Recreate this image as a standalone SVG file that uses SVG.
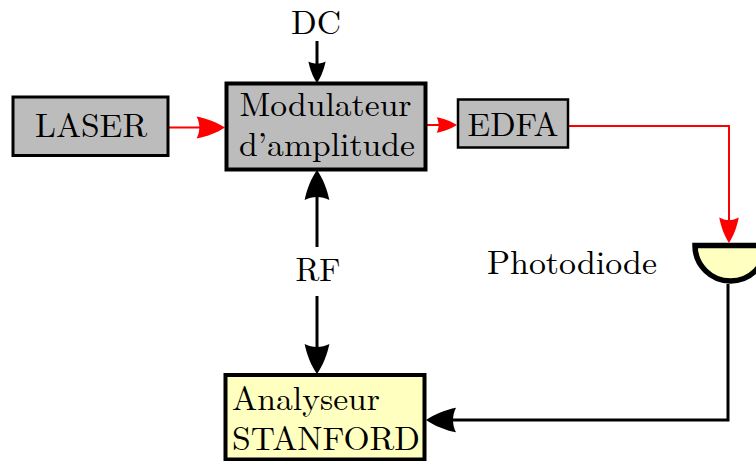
<svg xmlns="http://www.w3.org/2000/svg" width="756" height="461" viewBox="0 0 756 461">
<style>
text{font-family:"Latin Modern Roman","Liberation Serif","DejaVu Serif",serif;font-size:33px;fill:#000}
.g{fill:#bcbcbc;stroke:#000}
.y{fill:#ffffbf;stroke:#000}
.r{fill:none;stroke:#f00;stroke-width:2}
.k{fill:none;stroke:#000;stroke-width:3}
</style>
<defs>
<path id="ah" d="M0 0C-8-6-20-11-30-13C-26-5-26 5-30 13C-20 11-8 6 0 0Z"/>
</defs>
<rect width="756" height="461" fill="#fff"/>
<g id="connectors">
<path class="r" d="M168 127.500H200"/>
<use href="#ah" transform="translate(225 127.500) scale(.95 .85)" fill="#f00"/>
<path class="r" d="M426 125H440"/>
<use href="#ah" transform="translate(457 125) scale(.68 .6)" fill="#f00"/>
<path class="r" d="M568 126H729V220"/>
<use href="#ah" transform="translate(729 243) rotate(90) scale(.85 .75)" fill="#f00"/>
<path class="k" d="M317 41V65"/>
<use href="#ah" transform="translate(317 83) rotate(90) scale(.72 .66)"/>
<path class="k" d="M317 247V190"/>
<use href="#ah" transform="translate(317 170) rotate(-90) scale(1 .95)"/>
<path class="k" d="M317 296V350"/>
<use href="#ah" transform="translate(317 374) rotate(90) scale(1 .95)"/>
<path class="k" d="M728 284V420H450"/>
<use href="#ah" transform="translate(426 420) rotate(180) scale(1 .95)"/>
</g>
<g id="laser"><rect class="g" x="13" y="97" width="155" height="58.500" stroke-width="3"/><text x="91" y="137" text-anchor="middle" textLength="112" lengthAdjust="spacingAndGlyphs">LASER</text></g>
<g id="modulateur"><rect class="g" x="226.500" y="83.500" width="199" height="86" stroke-width="4"/><text x="325.500" y="116" text-anchor="middle" textLength="172" lengthAdjust="spacingAndGlyphs">Modulateur</text><text x="327" y="156" text-anchor="middle" textLength="176" lengthAdjust="spacingAndGlyphs">d’amplitude</text></g>
<g id="edfa"><rect class="g" x="458" y="99.500" width="110" height="48" stroke-width="2.500"/><text x="513" y="136" text-anchor="middle" textLength="91" lengthAdjust="spacingAndGlyphs">EDFA</text></g>
<g id="dc"><text x="316" y="34" text-anchor="middle" textLength="50" lengthAdjust="spacingAndGlyphs">DC</text></g>
<g id="rf"><text x="318" y="281" text-anchor="middle" textLength="45" lengthAdjust="spacingAndGlyphs">RF</text></g>
<g id="photodiode-label"><text x="572" y="274" text-anchor="middle" textLength="170" lengthAdjust="spacingAndGlyphs">Photodiode</text></g>
<g id="photodiode"><path d="M695 245.500H766A35.500 35.500 0 0 1 695 245.500Z" fill="#ffffbf" stroke="#000" stroke-width="5.500"/></g>
<g id="analyseur"><rect class="y" x="225.500" y="375" width="199" height="84.500" stroke-width="4"/><text x="232" y="410" textLength="148" lengthAdjust="spacingAndGlyphs">Analyseur</text><text x="232" y="450" textLength="188" lengthAdjust="spacingAndGlyphs">STANFORD</text></g>
</svg>
